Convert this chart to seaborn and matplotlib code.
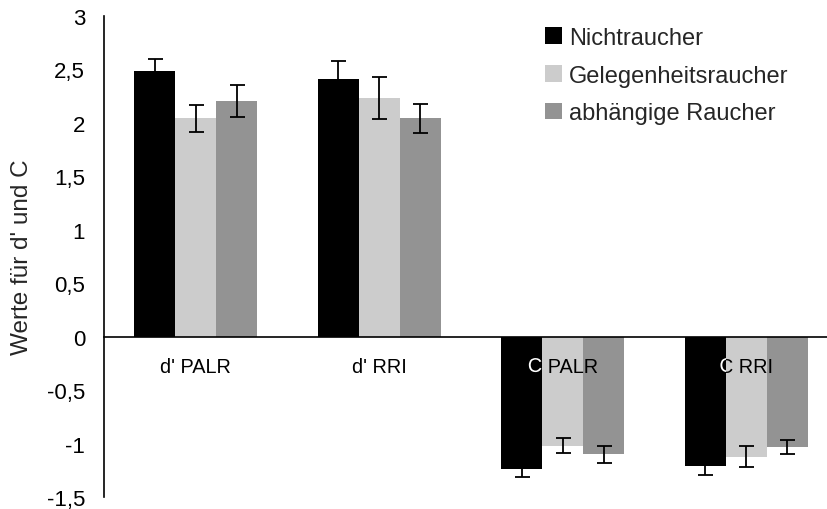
import pandas as pd
import seaborn as sns
import matplotlib.pyplot as plt
import matplotlib.patheffects as pe

# data
categories = ["d' PALR", "d' RRI", "C PALR", "C RRI"]
groups = ['Nichtraucher', 'Gelegenheitsraucher', 'abhängige Raucher']
nichtraucher = [2.48, 2.41, -1.24, -1.21]
gelegenheit = [2.04, 2.23, -1.02, -1.12]
abhaengig = [2.20, 2.04, -1.10, -1.03]
err_nichtraucher = [0.12, 0.165, 0.07, 0.08]
err_gelegenheit = [0.13, 0.195, 0.07, 0.10]
err_abhaengig = [0.15, 0.137, 0.078, 0.07]
yticks = [3, 2.5, 2, 1.5, 1, 0.5, 0, -0.5, -1, -1.5]

colors = ['#000000', '#cccccc', '#939393']

df = pd.DataFrame({
    'Bedingung': categories * 3,
    'Gruppe': [g for g in groups for _ in categories],
    'Wert': nichtraucher + gelegenheit + abhaengig,
})
errors = [err_nichtraucher, err_gelegenheit, err_abhaengig]

sns.set_theme(style='white')
plt.rcParams['font.family'] = ['Liberation Sans', 'DejaVu Sans']

fig = plt.figure(figsize=(8.28, 5.10), dpi=100)
ax = fig.add_axes([104 / 828, 11.7 / 510, 734.2 / 828, 481.6 / 510])

sns.barplot(data=df, x='Bedingung', y='Wert', hue='Gruppe', palette=colors,
            width=0.67, saturation=1, errorbar=None, linewidth=0,
            ax=ax, zorder=2)

# error bars on top of the seaborn bars
for cont, err in zip(ax.containers, errors):
    xs = [b.get_x() + b.get_width() / 2 for b in cont]
    ys = [b.get_height() for b in cont]
    ax.errorbar(xs, ys, yerr=err, fmt='none', ecolor='black',
                elinewidth=1.3, capsize=5.4, capthick=1.3, zorder=3)

ax.set_xlim(-0.5, 3.5)
ax.set_ylim(-1.5, 3)
ax.set_yticks(yticks)
ax.set_yticklabels([f'{t:g}'.replace('.', ',') for t in yticks], fontsize=16)
ax.set_ylabel('Werte für d\' und C', fontsize=17.5, labelpad=10)
ax.set_xlabel('')

# x axis at zero, ticks between categories
ax.spines['bottom'].set_position(('data', 0))
ax.spines['top'].set_visible(False)
ax.spines['right'].set_visible(False)
for s in ['left', 'bottom']:
    ax.spines[s].set_linewidth(1.2)
    ax.spines[s].set_color('black')
ax.set_xticks([-0.5, 0.5, 1.5, 2.5, 3.5])
ax.set_xticklabels([])
ax.tick_params(axis='x', direction='out', length=5, width=1.2, color='black')
ax.tick_params(axis='y', direction='out', length=5, width=1.2, color='black',
               pad=8.5, labelcolor='black')

# category labels, white where they sit on the black bars
black_bars = ax.containers[0]
for i, cat in enumerate(categories):
    ax.text(i, -0.277, cat, ha='center', va='center', fontsize=14.3,
            color='black', zorder=4)
    t = ax.text(i, -0.277, cat, ha='center', va='center', fontsize=14.3,
                color='white', zorder=5, clip_on=True,
                path_effects=[pe.Normal()])
    t.set_clip_path(black_bars[i])

ax.legend(loc='upper left', bbox_to_anchor=(545 / 828, 0.945),
          bbox_transform=fig.transFigure, frameon=False, fontsize=17,
          handlelength=0.72, handleheight=0.72, handletextpad=0.3,
          labelspacing=0.66, borderpad=0, borderaxespad=0)

plt.savefig('out.png', dpi=100)
